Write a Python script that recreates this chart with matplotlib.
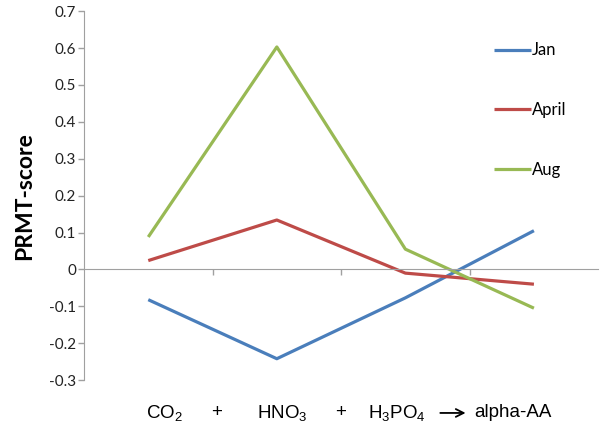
import matplotlib.pyplot as plt

months = ["Jan", "April", "Aug"]
jan = [-0.082, -0.242, -0.077, 0.105]
april = [0.024, 0.134, -0.010, -0.040]
aug = [0.088, 0.603, 0.055, -0.105]
colors = ["#4a7ebb", "#be4b48", "#98b954"]

# reaction text pieces shown under the axis
eq_pieces = ["CO$_2$", "+", "HNO$_3$", "+", "H$_3$PO$_4$", "alpha-AA"]
eq_x = [0.123, 0.535, 1.041, 1.492, 1.936, 2.839]

plt.rcParams['font.family'] = ['Lato', 'DejaVu Sans']
plt.rcParams['mathtext.fontset'] = 'custom'
plt.rcParams['mathtext.rm'] = 'Liberation Sans'
plt.rcParams['mathtext.default'] = 'regular'

fig = plt.figure(figsize=(6, 4.3), dpi=100)
ax = fig.add_axes([0.14, 0.116, 0.857, 0.858])

x = list(range(len(jan)))
for series, name, c in zip([jan, april, aug], months, colors):
    ax.plot(x, series, color=c, lw=2.3, label=name, solid_capstyle='butt')

ax.set_xlim(-0.5, 3.5)
ax.set_ylim(-0.3, 0.7)
ax.set_yticks([i / 10 for i in range(-3, 8)])
ax.set_yticklabels(["-0.3", "-0.2", "-0.1", "0", "0.1", "0.2", "0.3", "0.4", "0.5", "0.6", "0.7"])
ax.set_xticks([0.5, 1.5, 2.5])
ax.set_xticklabels([])

for s in ['top', 'right']:
    ax.spines[s].set_visible(False)
ax.spines['bottom'].set_position(('data', 0))
ax.spines['bottom'].set_color('#a0a0a0')
ax.spines['left'].set_color('#a0a0a0')
ax.tick_params(axis='y', colors='#a0a0a0', labelcolor='#222222', labelsize=11, length=4.5, width=1, pad=1)
ax.tick_params(axis='x', colors='#a0a0a0', length=4, width=1)

ax.set_ylabel("PRMT-score", fontsize=16.5, fontweight='bold', labelpad=10)

for t, px in zip(eq_pieces, eq_x):
    ax.text(px, -0.089, t, transform=ax.get_xaxis_transform(), ha='center', va='center',
            fontsize=13.5, family='Liberation Sans')
ax.annotate("", xy=(2.49, -0.089), xytext=(2.25, -0.089),
            xycoords=ax.get_xaxis_transform(), textcoords=ax.get_xaxis_transform(),
            arrowprops=dict(arrowstyle='->', lw=1.3, color='black', mutation_scale=14),
            annotation_clip=False)

leg = ax.legend(loc='upper left', bbox_to_anchor=(0.768, 0.956), frameon=False, fontsize=12,
                handlelength=2.2, handletextpad=0.1, labelspacing=2.62)

fig.savefig("out.png")
